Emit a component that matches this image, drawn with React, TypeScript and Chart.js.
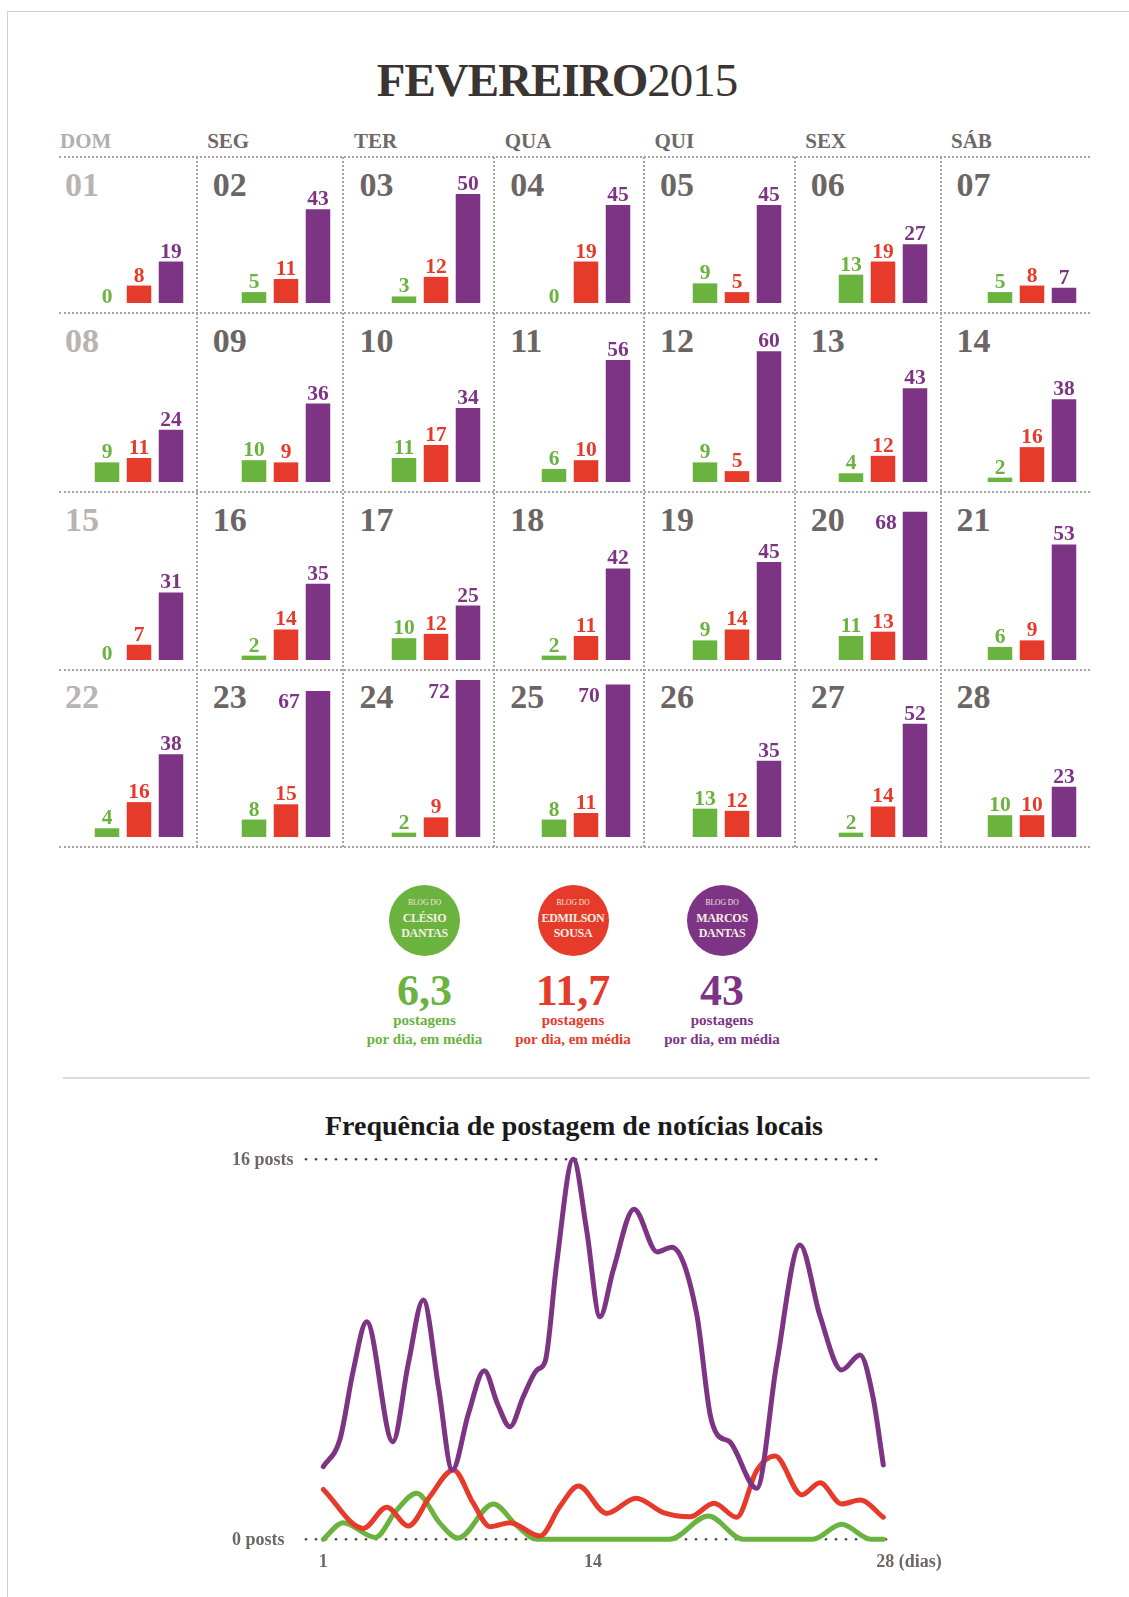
import React, { useEffect, useRef } from "react";
import { Chart, registerables } from "chart.js";

Chart.register(...registerables);

// ---------------- DATA ----------------
const weekdays = ["DOM", "SEG", "TER", "QUA", "QUI", "SEX", "SÁB"];
const dayLabels = [
  "01", "02", "03", "04", "05", "06", "07",
  "08", "09", "10", "11", "12", "13", "14",
  "15", "16", "17", "18", "19", "20", "21",
  "22", "23", "24", "25", "26", "27", "28",
];
const blogNames = ["Clésio Dantas", "Edmilson Sousa", "Marcos Dantas"];
const blogFirst = ["CLÉSIO", "EDMILSON", "MARCOS"];
const blogLast = ["DANTAS", "SOUSA", "DANTAS"];
const clesioDaily = [0, 5, 3, 0, 9, 13, 5, 9, 10, 11, 6, 9, 4, 2, 0, 2, 10, 2, 9, 11, 6, 4, 8, 2, 8, 13, 2, 10];
const edmilsonDaily = [8, 11, 12, 19, 5, 19, 8, 11, 9, 17, 10, 5, 12, 16, 7, 14, 12, 11, 14, 13, 9, 16, 15, 9, 11, 12, 14, 10];
const marcosDaily = [19, 43, 50, 45, 45, 27, 7, 24, 36, 34, 56, 60, 43, 38, 31, 35, 25, 42, 45, 68, 53, 38, 67, 72, 70, 35, 52, 23];
const averages = ["6,3", "11,7", "43"];

// local news frequency curve (day, posts)
const marcosLineDays = [1, 1.8, 2.45, 3.09, 4.35, 5.1, 5.82, 6.55, 7.22, 8.0, 8.76, 9.4, 10.0, 10.64, 11.3, 11.7, 12.25, 13.05, 13.7, 14.34, 14.98, 15.98, 17.1, 17.8, 19.0, 19.64, 20.0, 20.6, 21.9, 22.86, 23.98, 24.95, 25.99, 26.88, 27.5, 28];
const marcosLinePosts = [3.06, 4.2, 7.13, 9.16, 4.11, 7.4, 10.08, 6.43, 2.92, 5.3, 7.1, 5.7, 4.74, 6.0, 7.13, 7.5, 11.6, 16, 13.0, 9.37, 11.34, 13.9, 12.1, 12.3, 9.5, 5.3, 4.4, 4.1, 2.15, 7.4, 12.39, 9.4, 7.13, 7.76, 6.0, 3.13];
const edmilsonLineDays = [1, 2.93, 4.06, 5.1, 6.14, 7.27, 8.23, 9.04, 10.0, 11.45, 12.4, 13.3, 14.66, 16.08, 17.4, 18.68, 19.84, 20.93, 21.9, 22.78, 24.07, 24.95, 25.99, 26.88, 28];
const edmilsonLinePosts = [2.1, 0.46, 1.35, 0.56, 1.8, 2.92, 1.52, 0.53, 0.7, 0.14, 1.37, 2.24, 1.09, 1.73, 1.12, 0.95, 1.52, 0.93, 2.9, 3.51, 1.87, 2.38, 1.49, 1.65, 0.93];
const clesioLineDays = [1, 1.96, 3.5, 4.54, 5.5, 6.63, 7.5, 9.2, 10.3, 11.3, 17.7, 19.56, 21.25, 24.6, 25.99, 27.4, 28];
const clesioLinePosts = [0, 0.7, 0.08, 1.23, 1.94, 0.67, 0.05, 1.49, 0.6, 0, 0, 0.98, 0, 0, 0.63, 0, 0];
const yTickPosts = [0, 16];
const xTickDays = [1, 14, 28];
const xTickLabels = ["1", "14", "28 (dias)"];

// ---------------- STYLE / LAYOUT ----------------
const SERIF = "'Liberation Serif', 'Times New Roman', serif";
const blogColors = ["#6ab33f", "#e63b2a", "#7e3485"];
const colEdges = [59, 196.7, 343.4, 494.2, 644, 794.8, 940.5, 1090];
const rowEdges = [156.7, 313.3, 492, 669.5, 847.3];
const PX_PER_POST = 2.18;
const circleCenters = [424.5, 573, 722];

const valueLabelPlugin = {
  id: "valueLabels",
  afterDatasetsDraw(chart: any) {
    const ctx = chart.ctx;
    const meta = chart.getDatasetMeta(0);
    const data = chart.data.datasets[0].data as number[];
    ctx.save();
    ctx.font = `bold 21.5px ${SERIF}`;
    ctx.textBaseline = "alphabetic";
    meta.data.forEach((el: any, i: number) => {
      const v = data[i];
      const { x, y, width } = el.getProps(["x", "y", "width"], true);
      ctx.fillStyle = blogColors[i];
      if (v > 0 && y - chart.chartArea.top < 27) {
        ctx.textAlign = "right";
        ctx.fillText(String(v), x - width / 2 - 6, y + 17.5);
      } else {
        ctx.textAlign = "center";
        ctx.fillText(String(v), x, y - (v > 0 ? 4 : 0));
      }
    });
    ctx.restore();
  },
};

function DayCell({ index }: { index: number }) {
  const ref = useRef<HTMLCanvasElement>(null);
  const col = index % 7;
  const row = Math.floor(index / 7);
  const colRight = colEdges[col + 1];
  const left = Math.round(colRight - 105.75);
  const top = Math.round(rowEdges[row] + 2);
  const baseline = rowEdges[row + 1] - 10;
  const height = Math.round(baseline + 4) - top;
  const width = 96;

  useEffect(() => {
    const values = [clesioDaily[index], edmilsonDaily[index], marcosDaily[index]];
    const chart = new Chart(ref.current as HTMLCanvasElement, {
      type: "bar",
      data: {
        labels: blogNames,
        datasets: [
          {
            data: values,
            backgroundColor: blogColors,
            borderWidth: 0,
            barPercentage: 0.766,
            categoryPercentage: 1,
          },
        ],
      },
      options: {
        animation: false,
        responsive: false,
        events: [],
        layout: { padding: { top: 0, bottom: 4, left: 0, right: 0 } },
        plugins: { legend: { display: false }, tooltip: { enabled: false } },
        scales: {
          x: { display: false },
          y: { display: false, min: 0, max: (height - 4) / PX_PER_POST },
        },
      },
      plugins: [valueLabelPlugin],
    } as any);
    return () => chart.destroy();
  }, [index, height]);

  const dayColor = col === 0 ? "#b9b3b1" : "#6c6563";
  const numLeft = col === 0 ? 65 : colEdges[col] + 16;
  return (
    <>
      <div
        style={{
          position: "absolute",
          left: numLeft,
          top: rowEdges[row] + 16.3 - 0.16 * 34,
          fontFamily: SERIF,
          fontWeight: "bold",
          fontSize: 34,
          lineHeight: "34px",
          color: dayColor,
          whiteSpace: "nowrap",
        }}
      >
        {dayLabels[index]}
      </div>
      <canvas
        ref={ref}
        width={width}
        height={height}
        style={{ position: "absolute", left, top, width, height }}
      />
    </>
  );
}

const LC_LEFT = 200;
const LC_TOP = 1100;
const LC_W = 760;
const LC_H = 490;

const lineDecorPlugin = {
  id: "lineDecor",
  beforeDatasetsDraw(chart: any) {
    const ctx = chart.ctx;
    const ys = chart.scales.y;
    ctx.save();
    ctx.fillStyle = "#4d4846";
    yTickPosts.forEach((p, i) => {
      const y = ys.getPixelForValue(p);
      const x0 = 306 - LC_LEFT;
      const x1 = (i === 0 ? 887 : 878) - LC_LEFT;
      for (let x = x0; x <= x1; x += 10) {
        ctx.beginPath();
        ctx.arc(x, y, 1.3, 0, Math.PI * 2);
        ctx.fill();
      }
    });
    ctx.restore();
  },
  afterDraw(chart: any) {
    const ctx = chart.ctx;
    const xs = chart.scales.x;
    const ys = chart.scales.y;
    ctx.save();
    ctx.fillStyle = "#6f6764";
    ctx.font = `bold 18px ${SERIF}`;
    ctx.textBaseline = "middle";
    ctx.textAlign = "left";
    yTickPosts.forEach((p) => {
      ctx.fillText(`${p} posts`, 232 - LC_LEFT, ys.getPixelForValue(p) + 1);
    });
    xTickDays.forEach((d, i) => {
      const x = xs.getPixelForValue(d);
      if (i === xTickDays.length - 1) {
        ctx.textAlign = "left";
        ctx.fillText(xTickLabels[i], x - 7, 1562 - LC_TOP);
      } else {
        ctx.textAlign = "center";
        ctx.fillText(xTickLabels[i], x, 1562 - LC_TOP);
      }
    });
    ctx.restore();
  },
};

function LineChart() {
  const ref = useRef<HTMLCanvasElement>(null);
  useEffect(() => {
    const mk = (days: number[], posts: number[]) => days.map((d, i) => ({ x: d, y: posts[i] }));
    const common = {
      borderWidth: 5,
      pointRadius: 0,
      cubicInterpolationMode: "monotone",
      fill: false,
      clip: false,
      borderCapStyle: "round",
      borderJoinStyle: "round",
    };
    const chart = new Chart(ref.current as HTMLCanvasElement, {
      type: "line",
      data: {
        datasets: [
          { ...common, label: blogNames[2], data: mk(marcosLineDays, marcosLinePosts), borderColor: blogColors[2] },
          { ...common, label: blogNames[1], data: mk(edmilsonLineDays, edmilsonLinePosts), borderColor: blogColors[1] },
          { ...common, label: blogNames[0], data: mk(clesioLineDays, clesioLinePosts), borderColor: blogColors[0] },
        ],
      },
      options: {
        animation: false,
        responsive: false,
        events: [],
        layout: {
          padding: {
            left: 323.3 - LC_LEFT,
            right: LC_LEFT + LC_W - 883.3,
            top: 1159.3 - LC_TOP,
            bottom: LC_TOP + LC_H - 1539.3,
          },
        },
        plugins: { legend: { display: false }, tooltip: { enabled: false } },
        scales: {
          x: { type: "linear", display: false, min: 1, max: 28 },
          y: { display: false, min: 0, max: 16 },
        },
      },
      plugins: [lineDecorPlugin],
    } as any);
    return () => chart.destroy();
  }, []);
  return (
    <canvas
      ref={ref}
      width={LC_W}
      height={LC_H}
      style={{ position: "absolute", left: LC_LEFT, top: LC_TOP, width: LC_W, height: LC_H }}
    />
  );
}

function Txt(props: {
  x: number;
  capTop: number;
  size: number;
  color: string;
  bold?: boolean;
  center?: boolean;
  spacing?: number;
  children: React.ReactNode;
}) {
  const { x, capTop, size, color, bold, center, spacing, children } = props;
  return (
    <div
      style={{
        position: "absolute",
        left: x,
        top: capTop - 0.1755 * size,
        transform: center ? "translateX(-50%)" : undefined,
        fontFamily: SERIF,
        fontWeight: bold ? "bold" : "normal",
        fontSize: size,
        lineHeight: `${size}px`,
        color,
        whiteSpace: "nowrap",
        letterSpacing: spacing ?? 0,
      }}
    >
      {children}
    </div>
  );
}

export default function App() {
  const dotted = "2px dotted #a9a3a1";
  return (
    <div
      style={{
        position: "absolute",
        left: 0,
        top: 0,
        width: 1129,
        height: 1597,
        background: "#ffffff",
        overflow: "hidden",
      }}
    >
      {/* page frame */}
      <div style={{ position: "absolute", left: 7, top: 11, width: 1130, height: 1600, borderLeft: "1.5px solid #cfcfe0", borderTop: "1.5px solid #cfcfe0" }} />

      {/* title */}
      <div
        style={{
          position: "absolute",
          left: 557,
          top: 65 - 0.1755 * 47,
          transform: "translateX(-50%)",
          fontFamily: SERIF,
          fontSize: 47,
          lineHeight: "47px",
          color: "#3a3533",
          whiteSpace: "nowrap",
          letterSpacing: -1,
        }}
      >
        <span style={{ fontWeight: "bold" }}>FEVEREIRO</span>
        <span>2015</span>
      </div>

      {/* weekday header */}
      {weekdays.map((w, i) => (
        <Txt key={w} x={i === 0 ? 60 : colEdges[i] + 10.5} capTop={135} size={21} bold color={i === 0 ? "#b4aeac" : "#6f6866"}>
          {w}
        </Txt>
      ))}

      {/* grid lines */}
      {rowEdges.map((y, i) => (
        <div key={"h" + i} style={{ position: "absolute", left: colEdges[0], top: y - 1, width: colEdges[7] - colEdges[0], height: 0, borderTop: dotted }} />
      ))}
      {colEdges.slice(1, 7).map((x, i) => (
        <div key={"v" + i} style={{ position: "absolute", left: x - 1, top: rowEdges[0], width: 0, height: rowEdges[4] - rowEdges[0], borderLeft: dotted }} />
      ))}

      {dayLabels.map((_, i) => (
        <DayCell key={i} index={i} />
      ))}

      {/* legend circles */}
      {circleCenters.map((cx, i) => (
        <React.Fragment key={"c" + i}>
          <div
            style={{
              position: "absolute",
              left: cx - 35.5,
              top: 920 - 35.5,
              width: 71,
              height: 71,
              borderRadius: "50%",
              background: blogColors[i],
            }}
          />
          <Txt x={cx} capTop={903.3 - 2.5} size={7.5} center color="#f3ebdc">BLOG DO</Txt>
          <Txt x={cx} capTop={918 - 4} size={12} bold center spacing={-0.3} color="#f6efe2">{blogFirst[i]}</Txt>
          <Txt x={cx} capTop={933 - 4} size={12} bold center spacing={-0.3} color="#f6efe2">{blogLast[i]}</Txt>
          <div
            style={{
              position: "absolute",
              left: cx,
              top: 976 - 0.16 * 44,
              transform: "translateX(-50%)",
              fontFamily: SERIF,
              fontWeight: "bold",
              fontSize: 44,
              lineHeight: "44px",
              color: blogColors[i],
              whiteSpace: "nowrap",
            }}
          >
            {averages[i]}
          </div>
          <div style={{ position: "absolute", left: cx, top: 1022 - 9.5, transform: "translateX(-50%)", fontFamily: SERIF, fontWeight: "bold", fontSize: 15, lineHeight: "15px", color: blogColors[i], whiteSpace: "nowrap" }}>
            postagens
          </div>
          <div style={{ position: "absolute", left: cx, top: 1041 - 9.5, transform: "translateX(-50%)", fontFamily: SERIF, fontWeight: "bold", fontSize: 15, lineHeight: "15px", color: blogColors[i], whiteSpace: "nowrap" }}>
            por dia, em média
          </div>
        </React.Fragment>
      ))}

      {/* separator */}
      <div style={{ position: "absolute", left: 63, top: 1077, width: 1027, height: 2, background: "#dadae8" }} />

      {/* line chart title */}
      <Txt x={574} capTop={1117} size={28} bold center color="#1a1a1a">
        Frequência de postagem de notícias locais
      </Txt>

      <LineChart />
    </div>
  );
}
